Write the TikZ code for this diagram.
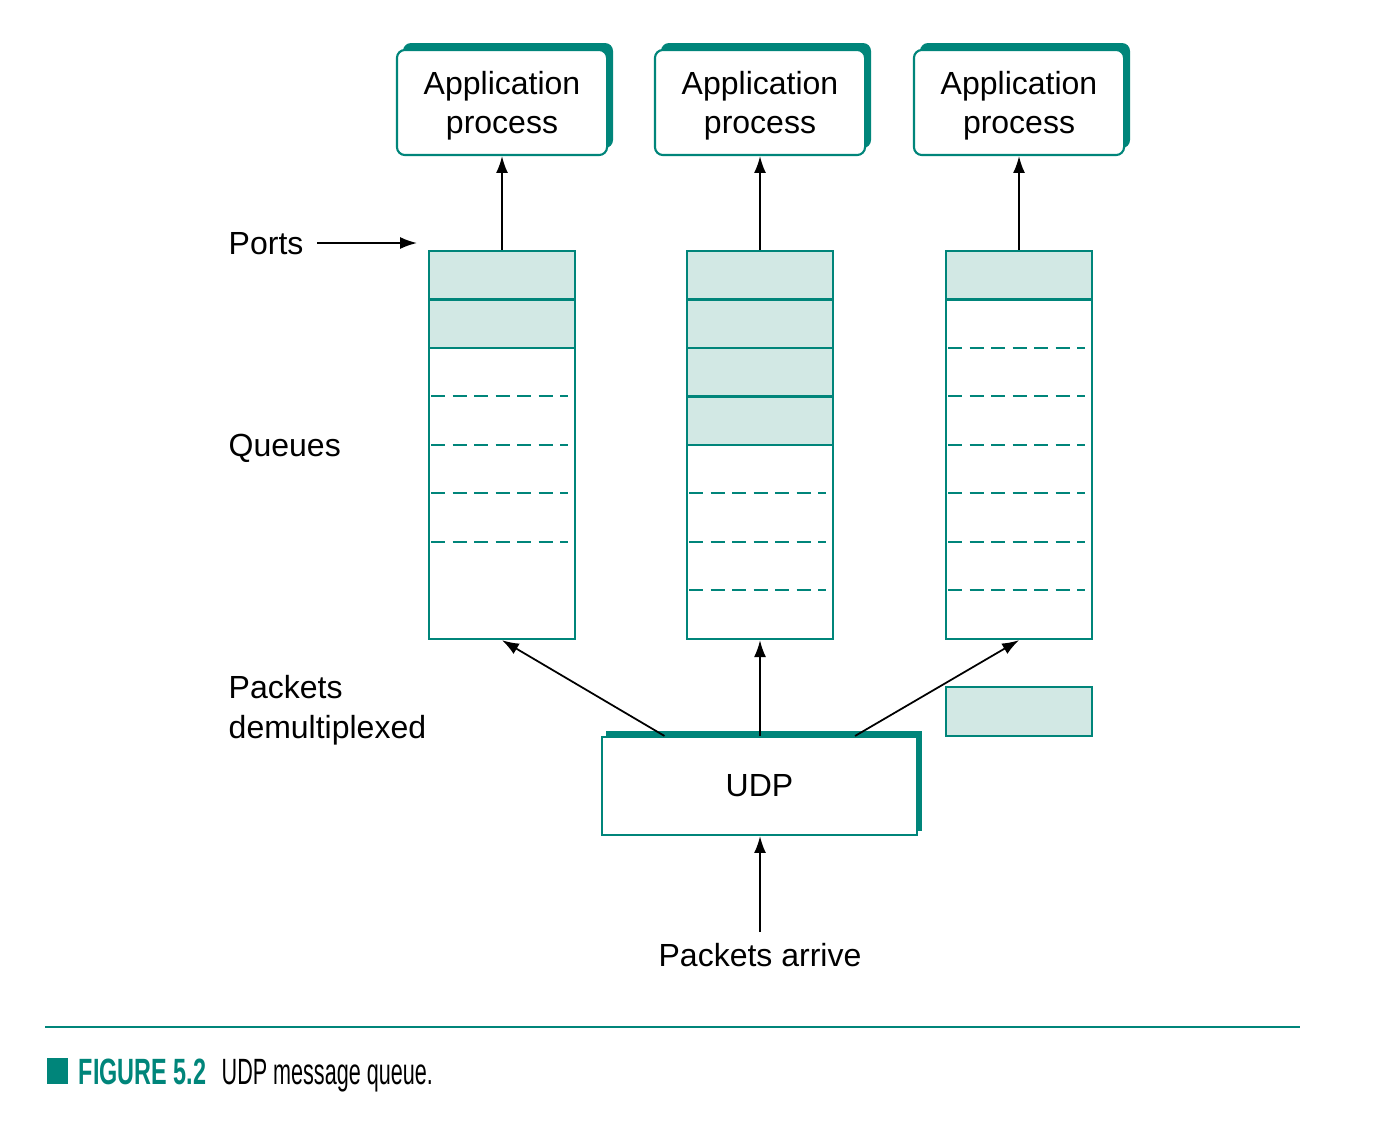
\documentclass[tikz,border=0pt]{standalone}
\usepackage{fontspec}
\setmainfont{Liberation Sans}
\newfontfamily\capboldfont[FakeStretch=0.64]{Liberation Sans}
\newfontfamily\capfont[FakeStretch=0.59]{Liberation Sans}
\usetikzlibrary{arrows.meta,calc}
\definecolor{tealc}{HTML}{00857A}
\definecolor{lfill}{HTML}{D2E8E4}
\tikzset{
  lbl/.style={font=\fontsize{9.1}{11.1}\selectfont, inner sep=0pt, align=left},
  appbox/.style={draw=tealc, fill=white, line width=0.6pt, rounded corners=0.8mm,
    minimum width=2.1cm, minimum height=1.05cm, align=center, inner sep=0pt,
    font=\fontsize{9.1}{11.1}\selectfont},
  appshadow/.style={fill=tealc, rounded corners=0.8mm},
  queuebox/.style={draw=tealc, line width=0.6pt, minimum width=1.46cm, minimum height=3.88cm, inner sep=0pt},
  rowfill/.style={fill=lfill},
  solidrow/.style={draw=tealc, line width=0.6pt},
  dashrow/.style={draw=tealc, line width=0.6pt, dash pattern=on 1.4mm off 0.75mm},
  arr/.style={draw=black, line width=0.5pt, -{Latex[length=4.8pt,width=3.4pt]}},
  udpbox/.style={draw=tealc, fill=white, line width=0.6pt, minimum width=3.15cm, minimum height=0.98cm,
    inner sep=0pt, font=\fontsize{9.1}{11.1}\selectfont},
  pktbox/.style={draw=tealc, fill=lfill, line width=0.6pt, minimum width=1.46cm, minimum height=0.49cm, inner sep=0pt}
}
\begin{document}
\begin{tikzpicture}[x=0.01cm,y=-0.01cm]
\useasboundingbox (0,0) rectangle (1374,1130);

% application boxes
\foreach \cx/\nm in {502/a1,760/a2,1019/a3}{
  \fill[appshadow] (\cx-99,43) rectangle (\cx+111,148);
  \node[appbox, text depth=0.3pt] (\nm) at (\cx,102.5) {Application\\process};
}

% queue fills
\fill[rowfill] (429,251) rectangle (575,348);
\fill[rowfill] (687,251) rectangle (833,445);
\fill[rowfill] (946,251) rectangle (1092,299.5);

% queue 1 lines
\draw[solidrow] (429,299.5) -- (575,299.5);
\draw[solidrow] (429,348) -- (575,348);
\foreach \yy in {396,445,493,542}{\draw[dashrow] (431,\yy) -- (568,\yy);}
% queue 2 lines
\foreach \yy in {299.5,348,396.5,445}{\draw[solidrow] (687,\yy) -- (833,\yy);}
\foreach \yy in {493,542,590}{\draw[dashrow] (689,\yy) -- (826,\yy);}
% queue 3 lines
\draw[solidrow] (946,299.5) -- (1092,299.5);
\foreach \yy in {348,396,445,493,542,590}{\draw[dashrow] (948,\yy) -- (1085,\yy);}

\node[queuebox] (q1) at (502,445) {};
\node[queuebox] (q2) at (760,445) {};
\node[queuebox] (q3) at (1019,445) {};

% arrows queue -> app
\draw[arr] (q1.north) -- (a1.south);
\draw[arr] (q2.north) -- (a2.south);
\draw[arr] (q3.north) -- (a3.south);

% labels
\node[lbl, anchor=base west] (ports) at (228,254) {Ports};
\coordinate (portend) at (417,243);
\draw[arr] ([xshift=1.3mm]ports.east |- portend) -- (portend);
\node[lbl, anchor=base west] (queues) at (228,456) {Queues};
\node[lbl, anchor=base west] (demux) at (228,738) {Packets\\demultiplexed};

% UDP
\fill[tealc] (606,731) rectangle (922,831);
\node[udpbox] (udp) at (759.5,786) {UDP};

\draw[arr] ([xshift=-0.95cm]udp.north) -- (q1.south);
\draw[arr] (udp.north -| q2.south) -- (q2.south);
\draw[arr] ([xshift=0.955cm]udp.north) -- (q3.south);

\node[pktbox] (pk) at (1019,711.5) {};

\node[lbl, anchor=base] (arrive) at (760,966) {Packets arrive};
\draw[arr] ([yshift=1.0mm]arrive.north) -- (arrive.north |- udp.south);

% caption
\draw[tealc, line width=0.6pt] (45,1027) -- (1300,1027);
\fill[tealc] (47,1058) rectangle (68,1084);
\node[anchor=base west, inner sep=0pt, text=tealc, font=\capboldfont\bfseries\fontsize{10.4}{12}\selectfont] (fig) at (78,1084) {FIGURE 5.2};
\node[anchor=base west, inner sep=0pt, font=\capfont\fontsize{10.4}{12}\selectfont] (cap) at (221,1084) {UDP message queue.};
\end{tikzpicture}
\end{document}
